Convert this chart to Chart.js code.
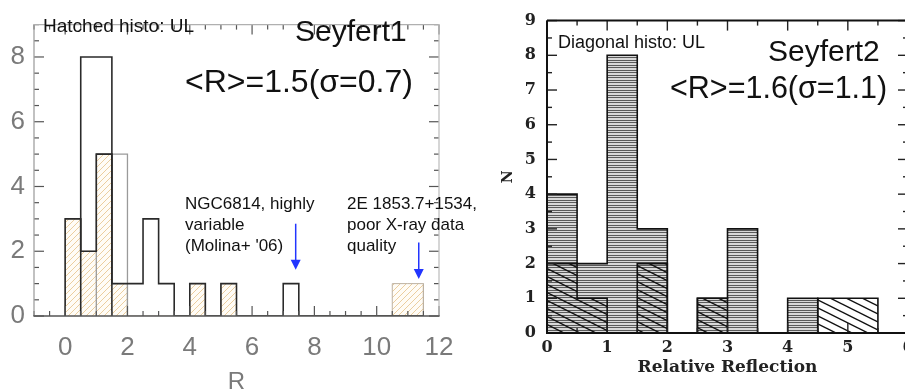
<!DOCTYPE html>
<html>
<head>
<meta charset="utf-8">
<script src="https://cdn.jsdelivr.net/npm/chart.js@4.4.1/dist/chart.umd.min.js"></script>
<style>
    html, body { margin: 0; padding: 0; background: #fff; width: 905px; height: 392px; overflow: hidden; }
    #sy1 { position: absolute; left: 0; top: 0; }
    #sy2 { position: absolute; left: 490px; top: 0; }
</style>
</head>
<body>
<canvas id="sy1" width="486" height="392"></canvas>
<canvas id="sy2" width="440" height="392"></canvas>
<script>
// histograms use bins of 0.5 in R, starting at R = 0
const BIN = 0.5;

// Seyfert1 (left panel)
const sy1Counts = [3, 2, 5, 1, 1, 3, 1, 0, 1, 0, 1, 0, 0, 0, 1, 0, 0, 0, 0, 0, 0, 0, 0];
const sy1UL     = [3, 2, 5, 1, 0, 0, 0, 0, 1, 0, 1, 0, 0, 0, 0, 0, 0, 0, 0, 0, 0, 1, 1];
const sy1WideFrom = [0.5, 1.0];
const sy1WideTo   = [1.5, 2.0];
const sy1WideN    = [8, 5];
const sy1XTicks = [0, 2, 4, 6, 8, 10, 12];
const sy1YTicks = [0, 2, 4, 6, 8];
const sy1ArrowX   = [7.4, 11.35];
const sy1ArrowTop = [2.85, 2.27];
const sy1ArrowTip = [1.43, 1.14];

// Seyfert2 (right panel)
const sy2Counts = [4, 2, 8, 3, 0, 1, 3, 0, 1];
const sy2UL     = [2, 1, 0, 2, 0, 1, 0, 0, 0, 1, 1];
const sy2XTicks = [0, 1, 2, 3, 4, 5, 6];
const sy2YTicks = [0, 1, 2, 3, 4, 5, 6, 7, 8, 9];

const SANS = 'Arial, "Liberation Sans", sans-serif';
const SERIF = '"DejaVu Serif", "Liberation Serif", serif';

function stepPoints(counts) {
    const pts = [{ x: 0, y: 0 }];
    counts.forEach((n, i) => {
        pts.push({ x: i * BIN, y: n }, { x: (i + 1) * BIN, y: n });
    });
    pts.push({ x: counts.length * BIN, y: 0 });
    return pts;
}

function boxPoints(from, to, n) {
    return [{ x: from, y: 0 }, { x: from, y: n }, { x: to, y: n }, { x: to, y: 0 }];
}

function makePattern(target, w, h, bg, draw) {
    const c = document.createElement('canvas');
    c.width = w; c.height = h;
    const g = c.getContext('2d');
    if (bg) { g.fillStyle = bg; g.fillRect(0, 0, w, h); }
    draw(g, w, h);
    return target.getContext('2d').createPattern(c, 'repeat');
}

// inward ticks + frame, drawn over the bars
const framePlugin = {
    id: 'frame',
    afterDatasetsDraw(chart, args, o) {
        const { ctx, chartArea: a, scales: { x, y } } = chart;
        ctx.save();
        const seg = (x1, y1, x2, y2) => { ctx.beginPath(); ctx.moveTo(x1, y1); ctx.lineTo(x2, y2); ctx.stroke(); };
        const marks = (scale, minor, major, cb) => {
            for (let k = Math.ceil(scale.min / minor - 1e-9); k * minor <= scale.max + 1e-9; k++) {
                const v = k * minor;
                const isMajor = Math.abs(v / major - Math.round(v / major)) < 1e-6;
                cb(scale.getPixelForValue(v), isMajor ? o.majorLen : o.minorLen);
            }
        };
        ctx.strokeStyle = o.tickColor;
        ctx.lineWidth = o.tickWidth;
        marks(x, o.xMinor, o.xMajor, (p, len) => { seg(p, a.bottom, p, a.bottom - len); seg(p, a.top, p, a.top + len); });
        marks(y, o.yMinor, o.yMajor, (p, len) => { seg(a.left, p, a.left + len, p); seg(a.right, p, a.right - len, p); });
        ctx.lineWidth = o.width;
        ctx.strokeStyle = o.colors[0]; seg(a.left, a.top, a.left, a.bottom);
        ctx.strokeStyle = o.colors[1]; seg(a.left, a.top, a.right, a.top);
        ctx.strokeStyle = o.colors[2]; seg(a.right, a.top, a.right, a.bottom);
        ctx.strokeStyle = o.colors[3]; seg(a.left - o.width / 2, a.bottom, a.right + o.width / 2, a.bottom);
        ctx.restore();
    }
};

// free text and arrows on the panels
const notesPlugin = {
    id: 'notes',
    afterDraw(chart, args, o) {
        const { ctx, scales: { x, y } } = chart;
        ctx.save();
        ctx.textAlign = 'left';
        ctx.textBaseline = 'middle';
        (o.texts || []).forEach(t => {
            ctx.font = t.font;
            ctx.fillStyle = t.color || '#111';
            ctx.fillText(t.text, t.x, t.y);
        });
        const ar = o.arrows;
        if (ar) {
            ctx.strokeStyle = ar.color;
            ctx.fillStyle = ar.color;
            ctx.lineWidth = 1.5;
            ar.x.forEach((xv, i) => {
                const px = x.getPixelForValue(xv);
                const top = y.getPixelForValue(ar.top[i]);
                const tip = y.getPixelForValue(ar.tip[i]);
                ctx.beginPath(); ctx.moveTo(px, top); ctx.lineTo(px, tip - 8); ctx.stroke();
                ctx.beginPath();
                ctx.moveTo(px - 5, tip - 10); ctx.lineTo(px + 5, tip - 10); ctx.lineTo(px, tip);
                ctx.closePath(); ctx.fill();
            });
        }
        ctx.restore();
    }
};

function lineSet(data, opts) {
    return Object.assign({
        data, pointRadius: 0, tension: 0, fill: false,
        borderJoinStyle: 'miter', borderCapStyle: 'butt'
    }, opts);
}

// ---------- Seyfert1 ----------
const c1 = document.getElementById('sy1');
const tanHatch = makePattern(c1, 6, 6, '#fffcf6', (g, w, h) => {
    g.strokeStyle = 'rgba(226,186,122,0.7)';
    g.lineWidth = 1;
    [[0, h, w, 0], [-1, 1, 1, -1], [w - 1, h + 1, w + 1, h - 1]].forEach(s => {
        g.beginPath(); g.moveTo(s[0], s[1]); g.lineTo(s[2], s[3]); g.stroke();
    });
});

new Chart(c1, {
    type: 'line',
    data: {
        datasets: [
            lineSet(stepPoints(sy1Counts), { borderColor: '#2a2a2a', borderWidth: 1.6, order: 0 }),
            lineSet(boxPoints(sy1WideFrom[0], sy1WideTo[0], sy1WideN[0]), { borderColor: '#2a2a2a', borderWidth: 1.6, order: 1 }),
            lineSet(boxPoints(sy1WideFrom[1], sy1WideTo[1], sy1WideN[1]), { borderColor: '#9a9a9a', borderWidth: 1.3, order: 2 }),
            lineSet(stepPoints(sy1UL), { borderColor: '#bdb2a2', borderWidth: 1, backgroundColor: tanHatch, fill: 'origin', order: 3 })
        ]
    },
    options: {
        responsive: false,
        animation: false,
        devicePixelRatio: 1,
        layout: { padding: { left: 0, top: 7, right: 47, bottom: 0 } },
        plugins: {
            legend: { display: false },
            tooltip: { enabled: false },
            frame: {
                colors: ['#a0a0a0', '#b0b0b0', '#c0c0c0', '#555'], width: 1.3,
                tickColor: '#555', tickWidth: 1.2, majorLen: 10, minorLen: 5,
                xMinor: 0.5, xMajor: 2, yMinor: 0.5, yMajor: 2
            },
            notes: {
                texts: [
                    { text: 'Hatched histo: UL', x: 43, y: 27, font: '19px ' + SANS },
                    { text: 'Seyfert1', x: 295, y: 33, font: '30px ' + SANS },
                    { text: '<R>=1.5(σ=0.7)', x: 185, y: 83, font: '32px ' + SANS },
                    { text: 'NGC6814, highly', x: 185, y: 204, font: '17px ' + SANS },
                    { text: 'variable', x: 185, y: 225, font: '17px ' + SANS },
                    { text: "(Molina+ '06)", x: 185, y: 246, font: '17px ' + SANS },
                    { text: '2E 1853.7+1534,', x: 347, y: 204, font: '17px ' + SANS },
                    { text: 'poor X-ray data', x: 347, y: 225, font: '17px ' + SANS },
                    { text: 'quality', x: 347, y: 246, font: '17px ' + SANS }
                ],
                arrows: { color: '#2235ff', x: sy1ArrowX, top: sy1ArrowTop, tip: sy1ArrowTip }
            }
        },
        scales: {
            x: {
                type: 'linear', min: -1, max: 12,
                afterBuildTicks: s => { s.ticks = sy1XTicks.map(v => ({ value: v })); },
                afterFit: s => { s.height = 76; },
                grid: { display: false, drawTicks: false },
                border: { display: false },
                ticks: { color: '#7a7a7a', font: { family: SANS, size: 26 }, padding: 16, maxRotation: 0, autoSkip: false },
                title: { display: true, text: 'R', color: '#7a7a7a', font: { family: SANS, size: 24 }, padding: { top: 0, bottom: -5 } }
            },
            y: {
                min: 0, max: 9,
                afterBuildTicks: s => { s.ticks = sy1YTicks.map(v => ({ value: v })); },
                afterFit: s => { s.width = 34; },
                grid: { display: false, drawTicks: false },
                border: { display: false },
                ticks: { color: '#7a7a7a', font: { family: SANS, size: 26 }, padding: 9 }
            }
        }
    },
    plugins: [framePlugin, notesPlugin]
});

// ---------- Seyfert2 ----------
const c2 = document.getElementById('sy2');
const lineHatch = makePattern(c2, 4, 5, '#d8d8d8', (g, w) => {
    g.fillStyle = '#5a5a5a';
    g.fillRect(0, 0, w, 1);
    g.fillRect(0, 2, w, 1);
});
const diagHatch = makePattern(c2, 16, 8, null, (g, w, h) => {
    g.strokeStyle = '#111';
    g.lineWidth = 1.4;
    [-h, 0, h].forEach(d => {
        g.beginPath(); g.moveTo(0, d); g.lineTo(w, d + h); g.stroke();
    });
});

new Chart(c2, {
    type: 'line',
    data: {
        datasets: [
            lineSet(stepPoints(sy2UL), { borderColor: '#111', borderWidth: 1.6, backgroundColor: diagHatch, fill: 'origin', order: 0 }),
            lineSet(stepPoints(sy2Counts), { borderColor: '#111', borderWidth: 1.6, backgroundColor: lineHatch, fill: 'origin', order: 1 })
        ]
    },
    options: {
        responsive: false,
        animation: false,
        devicePixelRatio: 1,
        layout: { padding: { left: 0, top: 20, right: 22, bottom: 0 } },
        plugins: {
            legend: { display: false },
            tooltip: { enabled: false },
            frame: {
                colors: ['#111', '#111', '#111', '#111'], width: 2,
                tickColor: '#222', tickWidth: 1.4, majorLen: 10, minorLen: 5,
                xMinor: 0.5, xMajor: 1, yMinor: 0.5, yMajor: 1
            },
            notes: {
                texts: [
                    { text: 'Diagonal histo: UL', x: 68, y: 43, font: '18px ' + SANS },
                    { text: 'Seyfert2', x: 278, y: 53, font: '30px ' + SANS },
                    { text: '<R>=1.6(σ=1.1)', x: 180, y: 90, font: '30.5px ' + SANS }
                ]
            }
        },
        scales: {
            x: {
                type: 'linear', min: 0, max: 6,
                afterBuildTicks: s => { s.ticks = sy2XTicks.map(v => ({ value: v })); },
                afterFit: s => { s.height = 59; },
                grid: { display: false, drawTicks: false },
                border: { display: false },
                ticks: { color: '#222', font: { family: SERIF, size: 16, weight: 'bold' }, padding: 5, maxRotation: 0, autoSkip: false },
                title: { display: true, text: 'Relative Reflection', color: '#222', font: { family: SERIF, size: 17, weight: 'bold' }, padding: { top: 0, bottom: 14 } }
            },
            y: {
                min: 0, max: 9,
                afterBuildTicks: s => { s.ticks = sy2YTicks.map(v => ({ value: v })); },
                afterFit: s => { s.width = 57; },
                grid: { display: false, drawTicks: false },
                border: { display: false },
                ticks: { color: '#222', font: { family: SERIF, size: 16, weight: 'bold' }, padding: 11 },
                title: { display: true, text: 'N', color: '#222', font: { family: SERIF, size: 14, weight: 'bold' }, padding: { top: 10, bottom: 0 } }
            }
        }
    },
    plugins: [framePlugin, notesPlugin]
});
</script>
</body>
</html>
